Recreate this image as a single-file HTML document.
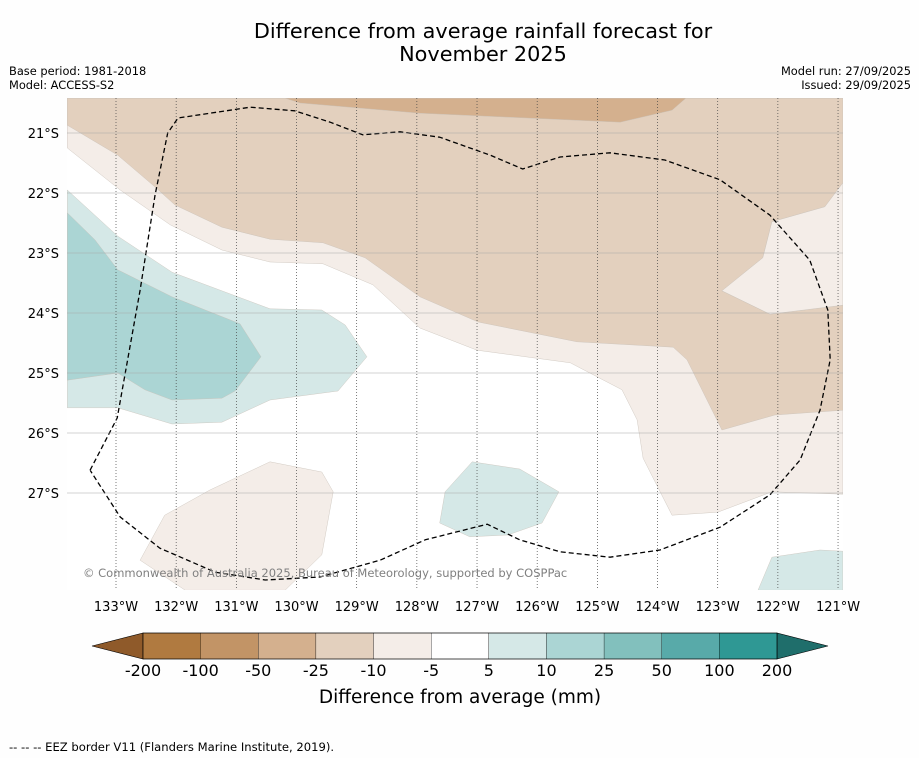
<!DOCTYPE html>
<html><head><meta charset="utf-8"><style>
body{margin:0;background:#fff;font-family:"Liberation Sans","DejaVu Sans",sans-serif;}
svg text{font-family:"DejaVu Sans","Liberation Sans",sans-serif;}
</style></head><body>
<svg id="chart" width="919" height="758" xmlns="http://www.w3.org/2000/svg">
<rect width="919" height="758" fill="#fefefe"/>
<text x="483" y="38" font-size="20.8" text-anchor="middle">Difference from average rainfall forecast for</text>
<text x="483" y="61" font-size="20.8" text-anchor="middle">November 2025</text>
<text x="9" y="75" font-size="11.4">Base period: 1981-2018</text>
<text x="9" y="89" font-size="11.4">Model: ACCESS-S2</text>
<text x="911" y="75" font-size="11.4" text-anchor="end">Model run: 27/09/2025</text>
<text x="911" y="89" font-size="11.4" text-anchor="end">Issued: 29/09/2025</text>
<defs><clipPath id="mapclip"><rect x="67" y="98" width="776" height="492"/></clipPath></defs>
<g id="map" clip-path="url(#mapclip)"></g>
<g id="grid"></g>
<g id="ticks"></g>
<text x="83" y="577" font-size="11.5" fill="#808080">© Commonwealth of Australia 2025, Bureau of Meteorology, supported by COSPPac</text>
<g id="cbar"></g>
<text x="460" y="703" font-size="18.5" text-anchor="middle">Difference from average (mm)</text>
<text x="9" y="751" font-size="11.6">--  --  -- EEZ border V11 (Flanders Marine Institute, 2019).</text>
</svg>
<script>
const lonTicks=[133,132,131,130,129,128,127,126,125,124,123,122,121];
const latTicks=[21,22,23,24,25,26,27];
const cbarLabels=["-200","-100","-50","-25","-10","-5","5","10","25","50","100","200"];
const cbarColors=["#b07a40","#c29466","#d4b08e","#e3d0be","#f4ede8","#ffffff","#d5e8e7","#abd5d4","#82c0bd","#58aaa9","#2f9894"];
const underColor="#8f5a2a", overColor="#1f6e6b";
const darkTan=[[130.19,20.42],[129.94,20.5],[127.95,20.67],[124.62,20.82],[123.76,20.62],[123.53,20.42]];
const tan=[[133.81,20.87],[132.97,21.37],[132.35,21.9],[132.02,22.2],[131.24,22.57],[130.44,22.77],[129.56,22.83],[128.86,23.08],[127.95,23.73],[126.98,24.15],[125.34,24.48],[123.74,24.57],[123.51,24.78],[122.93,25.95],[122.05,25.7],[120.92,25.62],[120.92,23.87],[122.13,24.02],[122.93,23.63],[122.25,23.08],[122.1,22.48],[121.22,22.23],[120.92,21.83],[120.92,20.42],[133.81,20.42]];
const lightTan=[[133.81,21.25],[132.93,21.95],[132.1,22.53],[131.24,22.95],[130.44,23.15],[129.56,23.18],[128.73,23.53],[127.95,24.25],[127.0,24.62],[125.45,24.83],[124.59,25.28],[124.34,25.78],[124.24,26.42],[123.76,27.37],[123.0,27.32],[122.1,26.98],[120.92,27.02],[120.92,20.42],[133.81,20.42]];
const lightTanInner=[[122.93,23.63],[122.25,23.08],[122.1,22.48],[121.22,22.23],[120.92,21.83],[120.92,23.87],[122.13,24.02]];
const tanPatch=[[132.6,28.12],[132.19,27.37],[131.44,26.95],[130.44,26.48],[129.58,26.65],[129.39,26.98],[129.58,28.03],[130.19,28.62],[131.85,28.62]];
const tealLight=[[133.81,21.95],[132.97,22.72],[132.07,23.32],[130.44,23.93],[129.58,23.95],[129.19,24.2],[128.83,24.73],[129.31,25.3],[130.44,25.45],[131.24,25.82],[132.07,25.85],[132.97,25.58],[133.81,25.58]];
const tealMid=[[133.81,22.33],[133.35,22.78],[132.97,23.28],[132.07,23.73],[130.94,24.18],[130.59,24.73],[131.02,25.3],[131.24,25.42],[132.07,25.45],[132.52,25.28],[132.97,25.0],[133.81,25.12]];
const tealPatch=[[127.53,26.98],[127.08,26.48],[126.29,26.6],[125.64,26.98],[125.92,27.5],[126.49,27.7],[127.12,27.73],[127.62,27.5]];
const tealPatch2=[[122.33,28.62],[122.1,28.07],[121.3,27.95],[120.92,27.97],[120.92,28.62]];
const eez=[[133.43,26.62],[132.98,25.75],[132.6,23.62],[132.35,22.03],[132.14,21.0],[131.97,20.75],[130.77,20.57],[130.03,20.63],[129.44,20.82],[128.9,21.03],[128.28,20.98],[127.62,21.07],[126.78,21.37],[126.24,21.6],[125.62,21.4],[124.79,21.33],[123.88,21.45],[122.96,21.78],[122.13,22.37],[121.47,23.12],[121.17,23.95],[121.13,24.78],[121.3,25.62],[121.63,26.45],[122.13,27.03],[122.96,27.57],[123.96,27.95],[124.79,28.07],[125.62,27.98],[126.29,27.78],[126.83,27.52],[127.86,27.78],[128.61,28.12],[129.61,28.4],[130.52,28.45],[131.35,28.32],[132.27,27.92],[132.93,27.4],[133.43,26.62]];

const NS="http://www.w3.org/2000/svg";
const X=lonW=>116+(133-lonW)*60.17;
const Y=latS=>133+(latS-21)*60;
function mk(tag,attrs,parent){const e=document.createElementNS(NS,tag);for(const k in attrs)e.setAttribute(k,attrs[k]);parent.appendChild(e);return e;}
const pts=a=>a.map(p=>X(p[0]).toFixed(1)+","+Y(p[1]).toFixed(1)).join(" ");
const map=document.getElementById("map");
const layers=[[lightTan,"#f4ede8","region-minus10"],[tan,"#e3d0be","region-minus25"],[lightTanInner,"#f4ede8","region-minus10-east"],[darkTan,"#d4b08e","region-minus50"],[tanPatch,"#f4ede8","region-minus10-south"],[tealLight,"#d5e8e7","region-plus5-west"],[tealMid,"#abd5d4","region-plus10-west"],[tealPatch,"#d5e8e7","region-plus5-south"],[tealPatch2,"#d5e8e7","region-plus5-southeast"]];
mk("rect",{x:67,y:98,width:776,height:492,fill:"#fff"},map);
layers.forEach(l=>{
 const p=mk("polygon",{points:pts(l[0]),fill:l[1],stroke:"#c8c0b8","stroke-width":0.4},map);
 
 
});
const e=mk("polyline",{points:pts(eez),fill:"none",stroke:"#000","stroke-width":1.3,"stroke-dasharray":"5,3","stroke-linejoin":"round"},map);



const grid=document.getElementById("grid"),ticks=document.getElementById("ticks");
lonTicks.forEach(l=>{
 const g=mk("line",{x1:X(l),x2:X(l),y1:98,y2:590,stroke:"#444","stroke-width":0.7,"stroke-dasharray":"1,2"},grid);
 
 
 const t=mk("text",{x:X(l),y:611,"font-size":13,"text-anchor":"middle"},ticks);t.textContent=l+"°W";
 
 
});
latTicks.forEach(l=>{
 const g=mk("line",{x1:67,x2:843,y1:Y(l),y2:Y(l),stroke:"#a8a8a8","stroke-width":0.6},grid);
 
 
 const t=mk("text",{x:59,y:Y(l)+5,"font-size":13,"text-anchor":"end"},ticks);t.textContent=l+"°S";
 
 
});

const cb=document.getElementById("cbar");
const cx0=143,cx1=777,cy=633,ch=26,bw=(cx1-cx0)/cbarColors.length;
const u=mk("polygon",{points:`${cx0},${cy} ${cx0},${cy+ch} 92,${cy+ch/2}`,fill:underColor,stroke:"#000","stroke-width":0.6},cb);


const o=mk("polygon",{points:`${cx1},${cy} ${cx1},${cy+ch} 828,${cy+ch/2}`,fill:overColor,stroke:"#000","stroke-width":0.6},cb);


cbarColors.forEach((c,i)=>{
 const r=mk("rect",{x:cx0+i*bw,y:cy,width:bw,height:ch,fill:c,stroke:"#000","stroke-width":0.3},cb);
 
 
});
mk("rect",{x:cx0,y:cy,width:cx1-cx0,height:ch,fill:"none",stroke:"#000","stroke-width":0.6},cb);
cbarLabels.forEach((s,i)=>{
 const t=mk("text",{x:cx0+i*bw,y:676,"font-size":16,"text-anchor":"middle"},cb);t.textContent=s;
 
 
});
</script>
</body></html>
